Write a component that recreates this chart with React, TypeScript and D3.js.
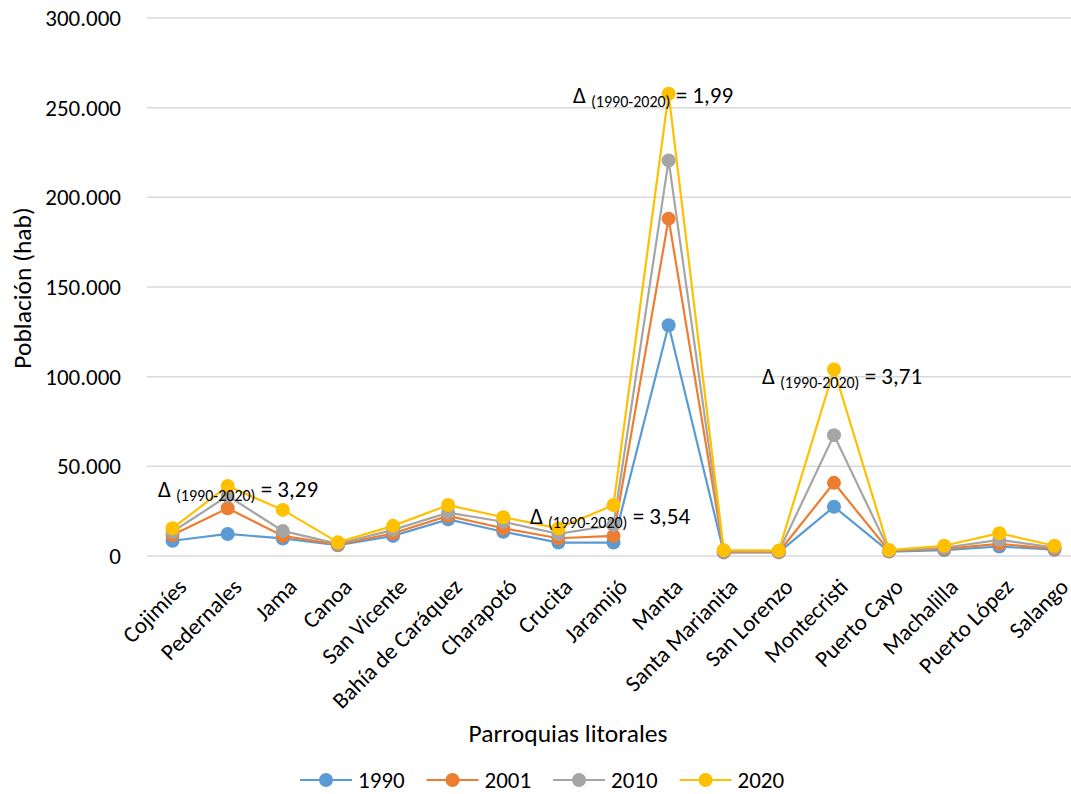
import * as d3 from 'd3';
import React from 'react';

const parroquias = [
  'Cojimíes', 'Pedernales', 'Jama', 'Canoa', 'San Vicente', 'Bahía de Caráquez',
  'Charapotó', 'Crucita', 'Jaramijó', 'Manta', 'Santa Marianita', 'San Lorenzo',
  'Montecristi', 'Puerto Cayo', 'Machalilla', 'Puerto López', 'Salango',
];

const pob1990 = [8500, 12300, 9800, 6000, 11200, 20400, 13500, 7500, 7500, 128700, 2000, 2000, 27500, 2500, 3300, 5300, 3500];
const pob2001 = [11700, 26600, 11200, 6300, 12700, 22300, 15500, 9900, 11200, 188100, 2200, 2200, 40800, 2800, 4000, 6800, 4000];
const pob2010 = [13500, 33500, 14000, 6800, 14600, 24200, 19100, 12300, 17300, 220600, 2600, 2500, 67400, 3100, 4600, 9000, 4700];
const pob2020 = [15500, 39000, 25700, 7600, 16800, 28400, 21600, 15400, 28400, 257800, 3300, 3000, 104000, 3300, 5700, 12700, 5700];

const anios = ['1990', '2001', '2010', '2020'];
const colores = ['#5b9bd5', '#ed7d31', '#a5a5a5', '#ffc000'];
const series = [pob1990, pob2001, pob2010, pob2020];

const yTicks = [0, 50000, 100000, 150000, 200000, 250000, 300000];

// anotaciones de crecimiento 1990-2020
const deltas = [
  { valor: '3,29', x: 158, y: 497 },
  { valor: '3,54', x: 530, y: 524 },
  { valor: '1,99', x: 573, y: 103 },
  { valor: '3,71', x: 762, y: 384 },
];

const width = 1071;
const height = 794;
const margin = { top: 18, right: 1082, bottom: 556, left: 145 };
const font = "Carlito, Calibri, 'Open Sans', sans-serif";

function App(): any {
  const x = d3.scaleBand<string>()
    .domain(parroquias)
    .range([margin.left, margin.right]);

  const y = d3.scaleLinear()
    .domain([0, 300000])
    .range([margin.bottom, margin.top]);

  const cx = (name: string) => (x(name) as number) + x.bandwidth() / 2;

  const line = d3.line<number>()
    .x((_, i) => cx(parroquias[i]))
    .y((d) => y(d));

  const fmt = (v: number) => v === 0 ? '0' : d3.format(',')(v).replace(/,/g, '.');

  return (
    <svg width={width} height={height} style={{ display: 'block', position: 'absolute', left: 0, top: 0 }} fontFamily={font}>
      <rect width={width} height={height} fill="white" />
      {yTicks.map((t) => (
        <g key={t}>
          <line x1={margin.left + 2} x2={margin.right} y1={y(t)} y2={y(t)} stroke="#d9d9d9" strokeWidth={1.5} />
          <text x={121} y={y(t)} dy="0.35em" textAnchor="end" fontSize={23} fill="#000">{fmt(t)}</text>
        </g>
      ))}
      {parroquias.map((p) => (
        <text
          key={p}
          transform={`translate(${cx(p) + 4},${577}) rotate(-45)`}
          textAnchor="end"
          dy="0.7em"
          fontSize={23}
          fill="#000"
        >{p}</text>
      ))}
      {series.map((s, k) => (
        <g key={anios[k]}>
          <path d={line(s) as string} fill="none" stroke={colores[k]} strokeWidth={2.2} />
          {s.map((v, i) => (
            <circle key={i} cx={cx(parroquias[i])} cy={y(v)} r={7} fill={colores[k]} />
          ))}
        </g>
      ))}
      {deltas.map((d) => (
        <text key={d.valor} x={d.x} y={d.y} fontSize={23} fill="#000">
          Δ<tspan fontSize={16} dy={4} dx={5}>(1990-2020)</tspan>
          <tspan dy={-4}>{' = ' + d.valor}</tspan>
        </text>
      ))}
      <text transform="translate(31,288) rotate(-90)" textAnchor="middle" fontSize={25.5} fill="#000">Población (hab)</text>
      <text x={568} y={742} textAnchor="middle" fontSize={25.5} fill="#000">Parroquias litorales</text>
      {anios.map((a, k) => {
        const lx = 300 + k * 126.5;
        return (
          <g key={a}>
            <line x1={lx} x2={lx + 52} y1={780} y2={780} stroke={colores[k]} strokeWidth={2.2} />
            <circle cx={lx + 26} cy={780} r={7} fill={colores[k]} />
            <text x={lx + 58} y={780} dy="0.35em" fontSize={23} fill="#000">{a}</text>
          </g>
        );
      })}
    </svg>
  );
}

export default App;
